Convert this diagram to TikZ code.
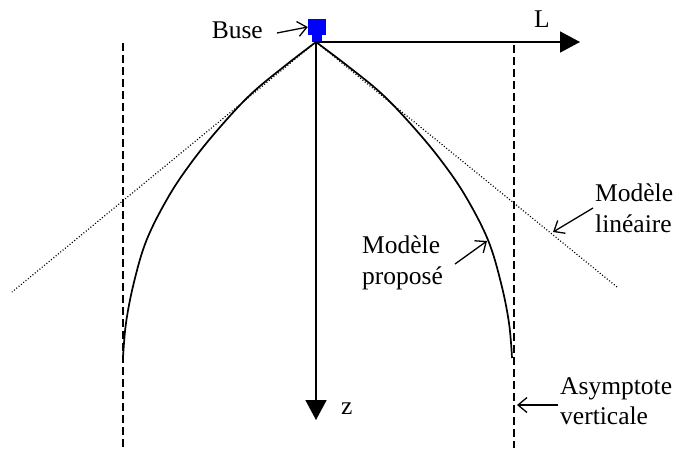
\documentclass[tikz,border=0pt]{standalone}
\usepackage{fontspec}
\setmainfont{Liberation Serif}
\usetikzlibrary{arrows.meta}
\begin{document}
\begin{tikzpicture}[x=1pt,y=-1pt,
  lbl/.style={font=\fontsize{25.5}{30.5}\selectfont, inner sep=0pt, align=left},
  axis/.style={line width=1.7pt, -{Triangle[length=20pt,width=21pt]}},
  pointer/.style={line width=1.3pt, -{Straight Barb[length=9pt,width=15pt,line width=1.3pt]}},
  asym/.style={line width=1.4pt, dash pattern=on 8pt off 4pt},
  linmodel/.style={line width=1.2pt, dash pattern=on 1pt off 2pt},
  curve/.style={line width=1.7pt}]
\useasboundingbox (0,0) rectangle (680,448);
% nozzle
\fill[blue] (312,34) rectangle (322,42);
\node[fill=blue, minimum width=18pt, minimum height=16pt, inner sep=0pt] (buse) at (317,27) {};
\coordinate (O) at (316,42);
\coordinate (Lend) at (580,42);
\coordinate (Zend) at (316,420);
% asymptotes
\coordinate (aLt) at (123,43);
\coordinate (aLb) at (123,448);
\coordinate (aRt) at (514,45);
\coordinate (aRb) at (514,448);
\draw[asym] (aLt) -- (aLb);
\draw[asym] (aRt) -- (aRb);
% linear model
\coordinate (linL) at (12,292);
\coordinate (linR) at (617,287);
\draw[linmodel] (O) -- (linL);
\draw[linmodel] (O) -- (linR);
% proposed model
\draw[curve] plot[smooth, tension=0.6] coordinates {(316,42) (349,67) (383,95) (416,130) (443,163) (466,197) (488,240) (501,283) (509,323) (512,358)};
\draw[curve] plot[smooth, tension=0.6] coordinates {(316,42) (283.5,67) (250,95) (217.5,130) (191,163) (168.3,197) (146.6,240) (133.8,283) (126,323) (123,358)};
% axes
\draw[axis] (O) -- (Lend);
\draw[axis] (O) -- (Zend);
% labels
\node[lbl, anchor=base east] (tbuse) at (263,38) {Buse};
\node[lbl, anchor=base] (tL) at (542,27) {L};
\node[lbl, anchor=base west] (tz) at (341,414) {z};
\node[lbl, anchor=north west] (tlin) at (595,184) {Modèle\\linéaire};
\node[lbl, anchor=north west] (tprop) at (362,236) {Modèle\\proposé};
\node[lbl, anchor=north west] (tasym) at (560,377) {Asymptote\\verticale};
\coordinate (plin) at (553,232);
\coordinate (pprop) at (487,241);
\coordinate (pasym) at (517,405);
\draw[pointer] (277,33) -- (buse.west);
\draw[pointer] (593,208) -- (plin);
\draw[pointer] (455,264) -- (pprop);
\draw[pointer] (558,405) -- (pasym);
\end{tikzpicture}
\end{document}
